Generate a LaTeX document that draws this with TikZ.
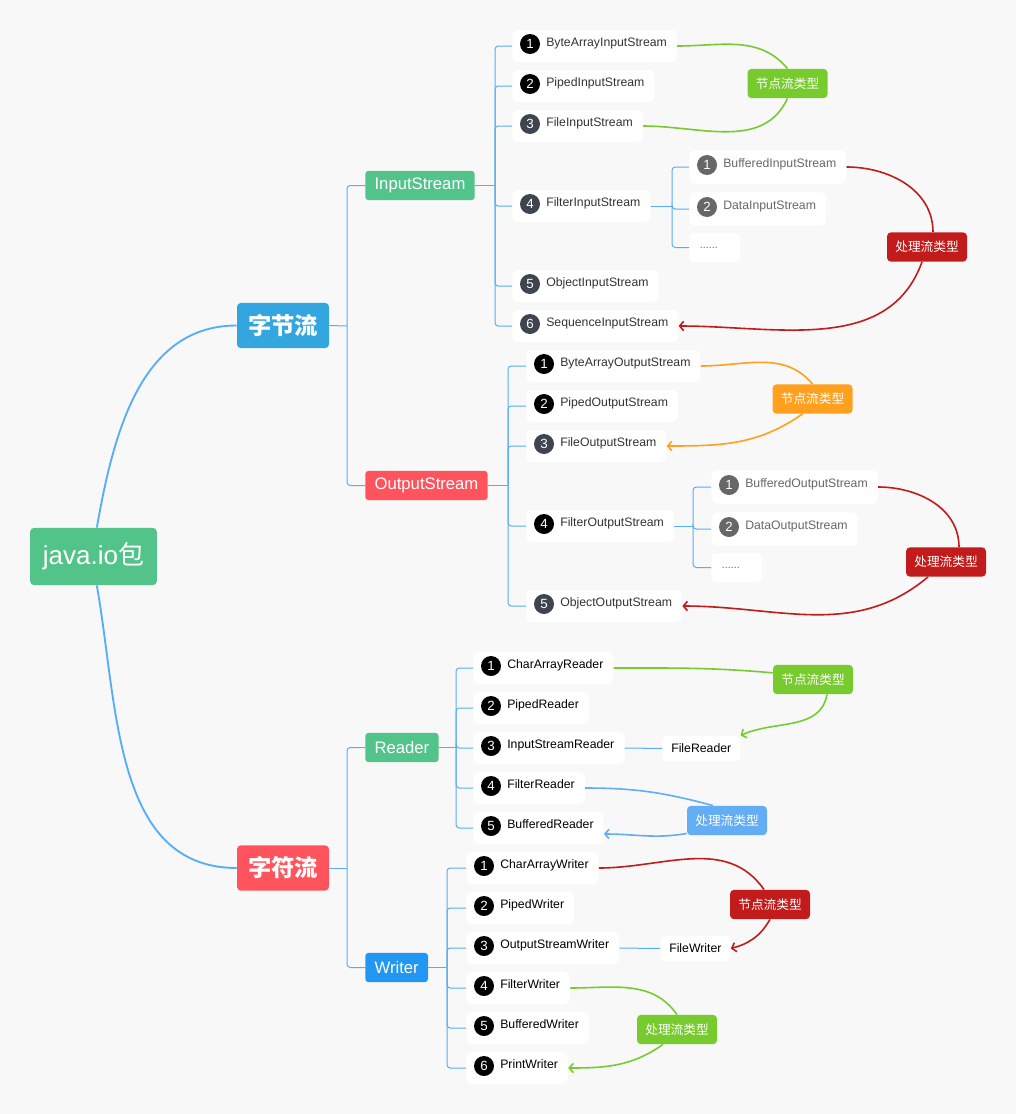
\documentclass[tikz,border=0pt]{standalone}
\usepackage{fontspec}
\setmainfont{Liberation Sans}
\newfontfamily\cjk{Noto Sans CJK SC}
\usetikzlibrary{arrows.meta}

\definecolor{bg}{HTML}{F8F8F8}
\definecolor{rootgreen}{HTML}{52C48A}
\definecolor{byteblue}{HTML}{33A6E0}
\definecolor{charred}{HTML}{FF545D}
\definecolor{writerblue}{HTML}{2196F3}
\definecolor{linkblue}{HTML}{58AEF6}
\definecolor{tagyes}{HTML}{77CB2E}
\definecolor{tagorange}{HTML}{FFA01F}
\definecolor{tagred}{HTML}{C21B1B}
\definecolor{taglight}{HTML}{63ADF4}
\definecolor{slate}{HTML}{3E4550}
\definecolor{subgray}{HTML}{676767}
\definecolor{leaftext}{HTML}{333333}

\tikzset{
  root/.style={rectangle, rounded corners=3pt, fill=rootgreen, text=white, minimum width=95pt, minimum height=43pt, font=\fontsize{19.5}{23}\selectfont},
  major/.style={rectangle, rounded corners=3pt, text=white, minimum width=69pt, minimum height=34pt, font=\cjk\bfseries\fontsize{17.5}{20}\selectfont},
  branch/.style={rectangle, rounded corners=2.5pt, text=white, anchor=west, minimum height=22pt, inner xsep=7pt, inner ysep=0pt, font=\fontsize{12.5}{15}\selectfont},
  leaf/.style={rectangle, rounded corners=4pt, fill=white, anchor=west, minimum height=24pt, inner xsep=7.5pt, inner ysep=0pt, text height=6.5pt, text depth=6.5pt, text=leaftext, font=\fontsize{9.2}{11}\selectfont, execute at begin node={\hspace*{18pt}}},
  leafk/.style={leaf, text=black},
  subleaf/.style={leaf, text=subgray, minimum height=25pt},
  more/.style={rectangle, rounded corners=4pt, fill=white, anchor=west, minimum height=22pt, text width=22pt, inner xsep=8pt, inner ysep=0pt, text=subgray, font=\fontsize{8}{9}\selectfont},
  plain/.style={rectangle, rounded corners=4pt, fill=white, anchor=west, minimum height=19pt, inner xsep=6.75pt, inner ysep=0pt, text=black, font=\fontsize{9.2}{11}\selectfont},
  dot/.style={circle, fill=black, text=white, inner sep=0pt, minimum size=15pt, font=\fontsize{10}{10}\selectfont, anchor=center, xshift=13.5pt, yshift=1.5pt},
  dotg/.style={dot, fill=slate},
  dotl/.style={dot, fill=subgray},
  tag/.style={rectangle, rounded corners=3pt, text=white, minimum width=60pt, minimum height=22pt, inner sep=2pt, font=\cjk\fontsize{9.5}{11}\selectfont},
  trunk/.style={draw=linkblue, line width=1.4pt},
  link/.style={draw=linkblue, line width=0.75pt, rounded corners=2.5pt},
  flow/.style={draw=#1, line width=1.2pt},
  flowto/.style={flow=#1, -{Straight Barb[length=3pt,width=7pt]}}
}

\begin{document}
\begin{tikzpicture}[x=0.75pt, y=-0.75pt]
	\fill[bg] (0,0) rectangle (1016,1114);
	\useasboundingbox (0,0) rectangle (1016,1114);

	% root and main branches
	\node (io)[root] at (93.5,556.5) {java.io{\cjk 包}};
	\node (byte)[major, fill=byteblue] at (283,325.5) {字节流};
	\node (char)[major, fill=charred] at (283,868) {字符流};

	\node (ins)[branch, fill=rootgreen] at (365,185.5) {InputStream};
	\node (outs)[branch, fill=charred] at (365,485.5) {OutputStream};
	\node (rdr)[branch, fill=rootgreen] at (365,747.5) {Reader};
	\node (wtr)[branch, fill=writerblue] at (365,967.5) {Writer};

	% InputStream
	\node (bais)[leaf, label={[dot]west:1}] at (512,46) {ByteArrayInputStream};
	\node (pis)[leaf, label={[dot]west:2}] at (512,86) {PipedInputStream};
	\node (fis)[leaf, label={[dotg]west:3}] at (512,126) {FileInputStream};
	\node (filis)[leaf, label={[dotg]west:4}] at (512,206) {FilterInputStream};
	\node (ois)[leaf, label={[dotg]west:5}] at (512,286) {ObjectInputStream};
	\node (sis)[leaf, label={[dotg]west:6}] at (512,326) {SequenceInputStream};

	\node (bis)[subleaf, label={[dotl]west:1}] at (689,167) {BufferedInputStream};
	\node (dis)[subleaf, label={[dotl]west:2}] at (689,209) {DataInputStream};
	\node (idots)[more] at (689,247.5) {......};

	% OutputStream
	\node (baos)[leaf, label={[dot]west:1}] at (526,366) {ByteArrayOutputStream};
	\node (pos)[leaf, label={[dot]west:2}] at (526,406) {PipedOutputStream};
	\node (fos)[leaf, label={[dotg]west:3}] at (526,446) {FileOutputStream};
	\node (filos)[leaf, label={[dot]west:4}] at (526,526) {FilterOutputStream};
	\node (oos)[leaf, label={[dotg]west:5}] at (526,606) {ObjectOutputStream};

	\node (bos)[subleaf, label={[dotl]west:1}] at (711,487) {BufferedOutputStream};
	\node (dos)[subleaf, label={[dotl]west:2}] at (711,529) {DataOutputStream};
	\node (odots)[more] at (711,567.5) {......};

	% Reader
	\node (car)[leafk, label={[dot]west:1}] at (473,668) {CharArrayReader};
	\node (pdr)[leafk, label={[dot]west:2}] at (473,708) {PipedReader};
	\node (isr)[leafk, label={[dot]west:3}] at (473,748) {InputStreamReader};
	\node (ftr)[leafk, label={[dot]west:4}] at (473,788) {FilterReader};
	\node (bfr)[leafk, label={[dot]west:5}] at (473,828) {BufferedReader};
	\node (flr)[plain] at (662,748.5) {FileReader};

	% Writer
	\node (caw)[leafk, label={[dot]west:1}] at (466,868) {CharArrayWriter};
	\node (pdw)[leafk, label={[dot]west:2}] at (466,908) {PipedWriter};
	\node (osw)[leafk, label={[dot]west:3}] at (466,948) {OutputStreamWriter};
	\node (ftw)[leafk, label={[dot]west:4}] at (466,988) {FilterWriter};
	\node (bfw)[leafk, label={[dot]west:5}] at (466,1028) {BufferedWriter};
	\node (ptw)[leafk, label={[dot]west:6}] at (466,1068) {PrintWriter};
	\node (flw)[plain] at (660,948.5) {FileWriter};

	% type tags
	\node (tagIn1)[tag, fill=tagyes] at (787.5,83.5) {节点流类型};
	\node (tagIn2)[tag, fill=tagred] at (927,247) {处理流类型};
	\node (tagOut1)[tag, fill=tagorange] at (812.5,399) {节点流类型};
	\node (tagOut2)[tag, fill=tagred] at (946,562) {处理流类型};
	\node (tagR1)[tag, fill=tagyes] at (813,679.5) {节点流类型};
	\node (tagR2)[tag, fill=taglight] at (727,820.5) {处理流类型};
	\node (tagW1)[tag, fill=tagred] at (770,904.5) {节点流类型};
	\node (tagW2)[tag, fill=tagyes] at (677,1029.5) {处理流类型};

	% tree lines
	\draw[trunk] ([xshift=2.5pt]io.north) to[out=80,in=180] (byte.west);
	\draw[trunk] ([xshift=2.5pt]io.south) to[out=-80,in=180] (char.west);

	\coordinate (byte-j) at (347,326);
	\draw[link] (byte.east) -- (byte-j);
	\draw[link] (byte-j) |- (ins.west);
	\draw[link] (byte-j) |- (outs.west);

	\coordinate (char-j) at (347,868);
	\draw[link] (char.east) -- (char-j);
	\draw[link] (char-j) |- (rdr.west);
	\draw[link] (char-j) |- (wtr.west);

	\coordinate (ins-j) at (495,185.5);
	\draw[link] (ins.east) -- (ins-j);
	\draw[link] (ins-j) |- (bais.west);
	\draw[link] (ins-j) |- (pis.west);
	\draw[link] (ins-j) |- (fis.west);
	\draw[link] (ins-j) |- (filis.west);
	\draw[link] (ins-j) |- (ois.west);
	\draw[link] (ins-j) |- (sis.west);

	\coordinate (filis-j) at (672,206);
	\draw[link] (filis.east) -- (filis-j);
	\draw[link] (filis-j) |- (bis.west);
	\draw[link] (filis-j) |- (dis.west);
	\draw[link] (filis-j) |- (idots.west);

	\coordinate (outs-j) at (508,485.5);
	\draw[link] (outs.east) -- (outs-j);
	\draw[link] (outs-j) |- (baos.west);
	\draw[link] (outs-j) |- (pos.west);
	\draw[link] (outs-j) |- (fos.west);
	\draw[link] (outs-j) |- (filos.west);
	\draw[link] (outs-j) |- (oos.west);

	\coordinate (filos-j) at (693,526);
	\draw[link] (filos.east) -- (filos-j);
	\draw[link] (filos-j) |- (bos.west);
	\draw[link] (filos-j) |- (dos.west);
	\draw[link] (filos-j) |- (odots.west);

	\coordinate (rdr-j) at (456,747.5);
	\draw[link] (rdr.east) -- (rdr-j);
	\draw[link] (rdr-j) |- (car.west);
	\draw[link] (rdr-j) |- (pdr.west);
	\draw[link] (rdr-j) |- (isr.west);
	\draw[link] (rdr-j) |- (ftr.west);
	\draw[link] (rdr-j) |- (bfr.west);
	\draw[link] (isr.east) -- (flr.west);

	\coordinate (wtr-j) at (447,967.5);
	\draw[link] (wtr.east) -- (wtr-j);
	\draw[link] (wtr-j) |- (caw.west);
	\draw[link] (wtr-j) |- (pdw.west);
	\draw[link] (wtr-j) |- (osw.west);
	\draw[link] (wtr-j) |- (ftw.west);
	\draw[link] (wtr-j) |- (bfw.west);
	\draw[link] (wtr-j) |- (ptw.west);
	\draw[link] (osw.east) -- (flw.west);

	% type curves
	\draw[flow=tagyes] (bais.east) to[out=0,in=130] (tagIn1.north);
	\draw[flow=tagyes] (tagIn1.south) to[out=-115,in=0] (fis.east);
	\draw[flow=tagred] (bis.east) to[out=0,in=90] ([xshift=4.5pt]tagIn2.north);
	\draw[flowto=tagred] ([xshift=-3.75pt]tagIn2.south) to[out=-110,in=0] (sis.east);

	\draw[flow=tagorange] (baos.east) to[out=0,in=130] (tagOut1.north);
	\draw[flowto=tagorange] ([xshift=-7.5pt]tagOut1.south) to[out=-145,in=0] (fos.east);
	\draw[flow=tagred] (bos.east) to[out=0,in=90] ([xshift=9.75pt]tagOut2.north);
	\draw[flowto=tagred] ([xshift=-13.5pt]tagOut2.south) to[out=-140,in=0] (oos.east);

	\draw[flow=tagyes] (car.east) to[out=0,in=175] ([yshift=5pt]tagR1.west);
	\draw[flowto=tagyes] ([xshift=10.5pt]tagR1.south) to[out=-100,in=25] (flr.north east);
	\draw[flow=taglight] (ftr.east) to[out=0,in=165] ([xshift=-10.5pt]tagR2.north);
	\draw[flowto=taglight] ([yshift=1.5pt]tagR2.south west) to[out=190,in=0] ([yshift=-4.5pt]bfr.east);

	\draw[flow=tagred] (caw.east) to[out=0,in=125] ([xshift=-4.5pt]tagW1.north);
	\draw[flowto=tagred] (tagW1.south) to[out=-120,in=15] (flw.east);
	\draw[flow=tagyes] (ftw.east) to[out=0,in=125] (tagW2.north);
	\draw[flowto=tagyes] ([xshift=-10.5pt]tagW2.south) to[out=-145,in=0] (ptw.east);
\end{tikzpicture}
\end{document}
